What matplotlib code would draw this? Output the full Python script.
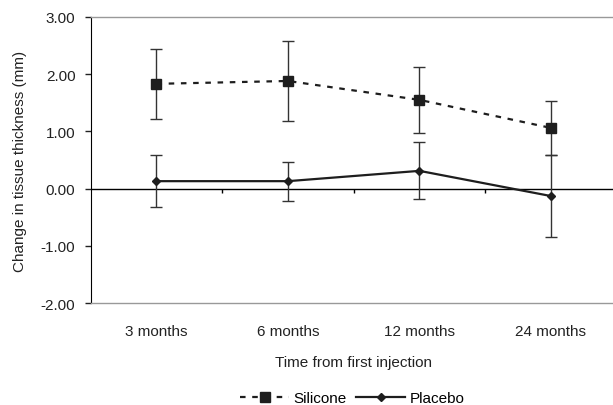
import numpy as np
import matplotlib
matplotlib.use("Agg")
import matplotlib.pyplot as plt

plt.rcParams['font.family'] = ['Liberation Sans', 'DejaVu Sans']

categories = ['3 months', '6 months', '12 months', '24 months']
silicone = [1.83, 1.88, 1.55, 1.06]
silicone_err = [0.61, 0.70, 0.57, 0.47]
placebo = [0.13, 0.13, 0.31, -0.13]
placebo_err = [0.45, 0.34, 0.50, 0.72]
yticks = [3, 2, 1, 0, -1, -2]

x = np.arange(len(categories))
ink = '#1e1e1e'
fs = 11

fig = plt.figure(figsize=(6.13, 4.06), dpi=100)
ax = fig.add_axes([0.148, 0.251, 0.858, 0.705])

ax.errorbar(x, silicone, yerr=silicone_err, fmt='none', ecolor='#333333',
            elinewidth=1.0, capsize=4, capthick=1.0, zorder=2)
ax.errorbar(x, placebo, yerr=placebo_err, fmt='none', ecolor='#333333',
            elinewidth=1.0, capsize=4, capthick=1.0, zorder=2)
ax.plot(x, silicone, linestyle=(0, (2.5, 3)), color=ink, linewidth=1.6,
        marker='s', markersize=6.5, label='Silicone', zorder=3)
ax.plot(x, placebo, linestyle='-', color=ink, linewidth=1.6,
        marker='D', markersize=4, label='Placebo', zorder=3)

# zero line with category-boundary ticks
ax.axhline(0, color='black', linewidth=1.0, zorder=1)
ax.vlines(x[:-1] + 0.5, -0.07, 0, color='black', linewidth=1.0, zorder=1)

ax.set_xlim(-0.5, len(categories) - 0.5)
ax.set_ylim(-2, 3)
ax.set_yticks(yticks)
ax.set_yticklabels([f'{v:.2f}' for v in yticks])
ax.set_xticks(x)
ax.set_xticklabels(categories)
ax.tick_params(axis='x', length=0, pad=15, labelsize=fs, colors='#222222')
ax.tick_params(axis='y', length=4, width=1, direction='out', labelsize=fs,
               colors='#222222', pad=7)

for s in ['top', 'bottom']:
    ax.spines[s].set_color('#999999')
    ax.spines[s].set_linewidth(1.0)
ax.spines['right'].set_visible(False)
ax.spines['left'].set_color('black')

ax.set_xlabel('Time from first injection', fontsize=fs, color='#222222', labelpad=12)
ax.set_ylabel('Change in tissue thickness (mm)', fontsize=fs, color='#222222', labelpad=10)

fig.legend(loc='lower center', bbox_to_anchor=(0.575, -0.035), ncol=2,
           frameon=False, fontsize=fs, handlelength=3.2, columnspacing=0.6,
           handletextpad=0.3)

fig.savefig('out.png', dpi=100)
